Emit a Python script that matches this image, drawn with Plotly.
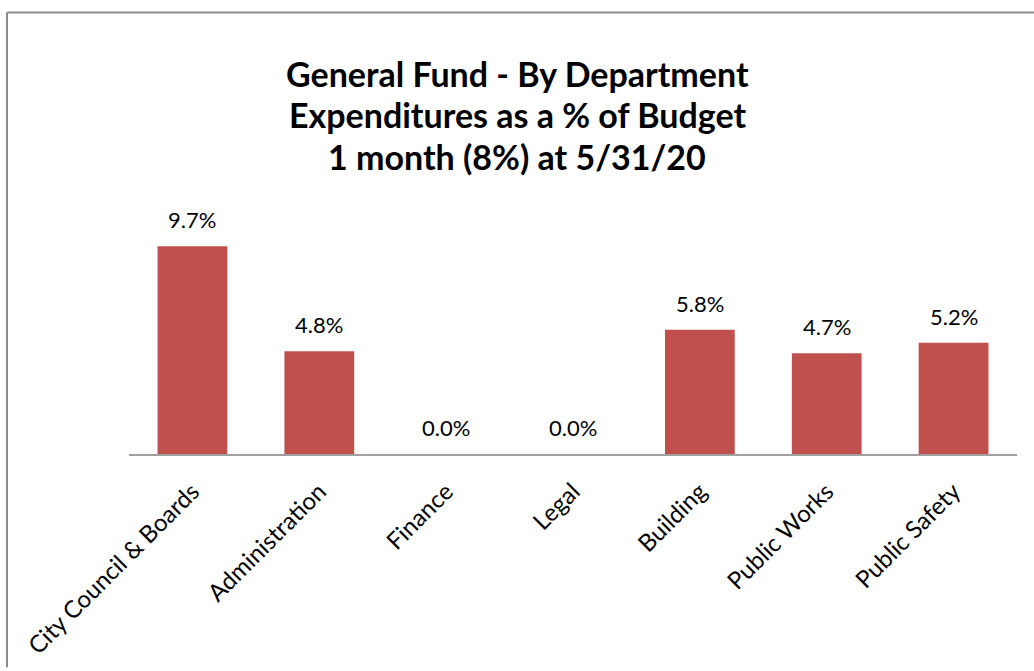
import plotly.graph_objects as go

categories = ["City Council & Boards", "Administration", "Finance", "Legal",
              "Building", "Public Works", "Public Safety"]
values = [9.7, 4.8, 0.0, 0.0, 5.8, 4.7, 5.2]
value_labels = ["9.7%", "4.8%", "0.0%", "0.0%", "5.8%", "4.7%", "5.2%"]
title_lines = ["General Fund - By Department",
               "Expenditures as a % of Budget",
               "1 month (8%) at 5/31/20"]

FONT = "Lato"
W, H = 1034, 671
L, R, T, B = 129, 17, 197, 215
pw, ph = W - L - R, H - T - B

fig = go.Figure(go.Bar(
    x=categories, y=values,
    marker=dict(color="#C0504D", line=dict(width=0)),
    hoverinfo="skip",
))

annotations = [
    dict(x=c, y=v, text=t, xref="x", yref="y", showarrow=False,
         yanchor="bottom", yshift=11,
         font=dict(family=FONT, size=22, color="#000000"))
    for c, v, t in zip(categories, values, value_labels)
]
title_y = [73, 114, 156]
for line, ty in zip(title_lines, title_y):
    annotations.append(dict(
        x=(517 - L) / pw, y=(H - B - ty) / ph, xref="paper", yref="paper",
        text="<b>%s</b>" % line,
        showarrow=False, xanchor="center", yanchor="middle",
        font=dict(family=FONT, size=34, color="#000000"),
    ))

shapes = [
    dict(type="line", xref="paper", yref="paper",
         x0=(7 - L) / pw, x1=(W - L) / pw,
         y0=(H - B - 11) / ph, y1=(H - B - 11) / ph,
         line=dict(color="#8C8C8C", width=2)),
    dict(type="line", xref="paper", yref="paper",
         x0=(7 - L) / pw, x1=(7 - L) / pw,
         y0=(H - B - 11) / ph, y1=(H - B - H) / ph,
         line=dict(color="#8C8C8C", width=2)),
]

fig.update_layout(
    width=W, height=H,
    margin=dict(l=L, r=R, t=T, b=B, pad=0),
    paper_bgcolor="white", plot_bgcolor="white",
    bargap=0.45,
    showlegend=False,
    annotations=annotations,
    shapes=shapes,
    xaxis=dict(
        showline=True, linecolor="#A0A0A0", linewidth=2,
        ticks="", tickangle=-45, ticklabelstandoff=12,
        tickfont=dict(family=FONT, size=24, color="#000000"),
        showgrid=False, fixedrange=True,
    ),
    yaxis=dict(
        range=[0, 12], visible=False, showgrid=False, zeroline=False,
        fixedrange=True,
    ),
)

fig.write_html(
    "out.html",
    config={"displayModeBar": False},
    post_script="document.body.style.margin='0';document.body.style.overflow='hidden';",
)
